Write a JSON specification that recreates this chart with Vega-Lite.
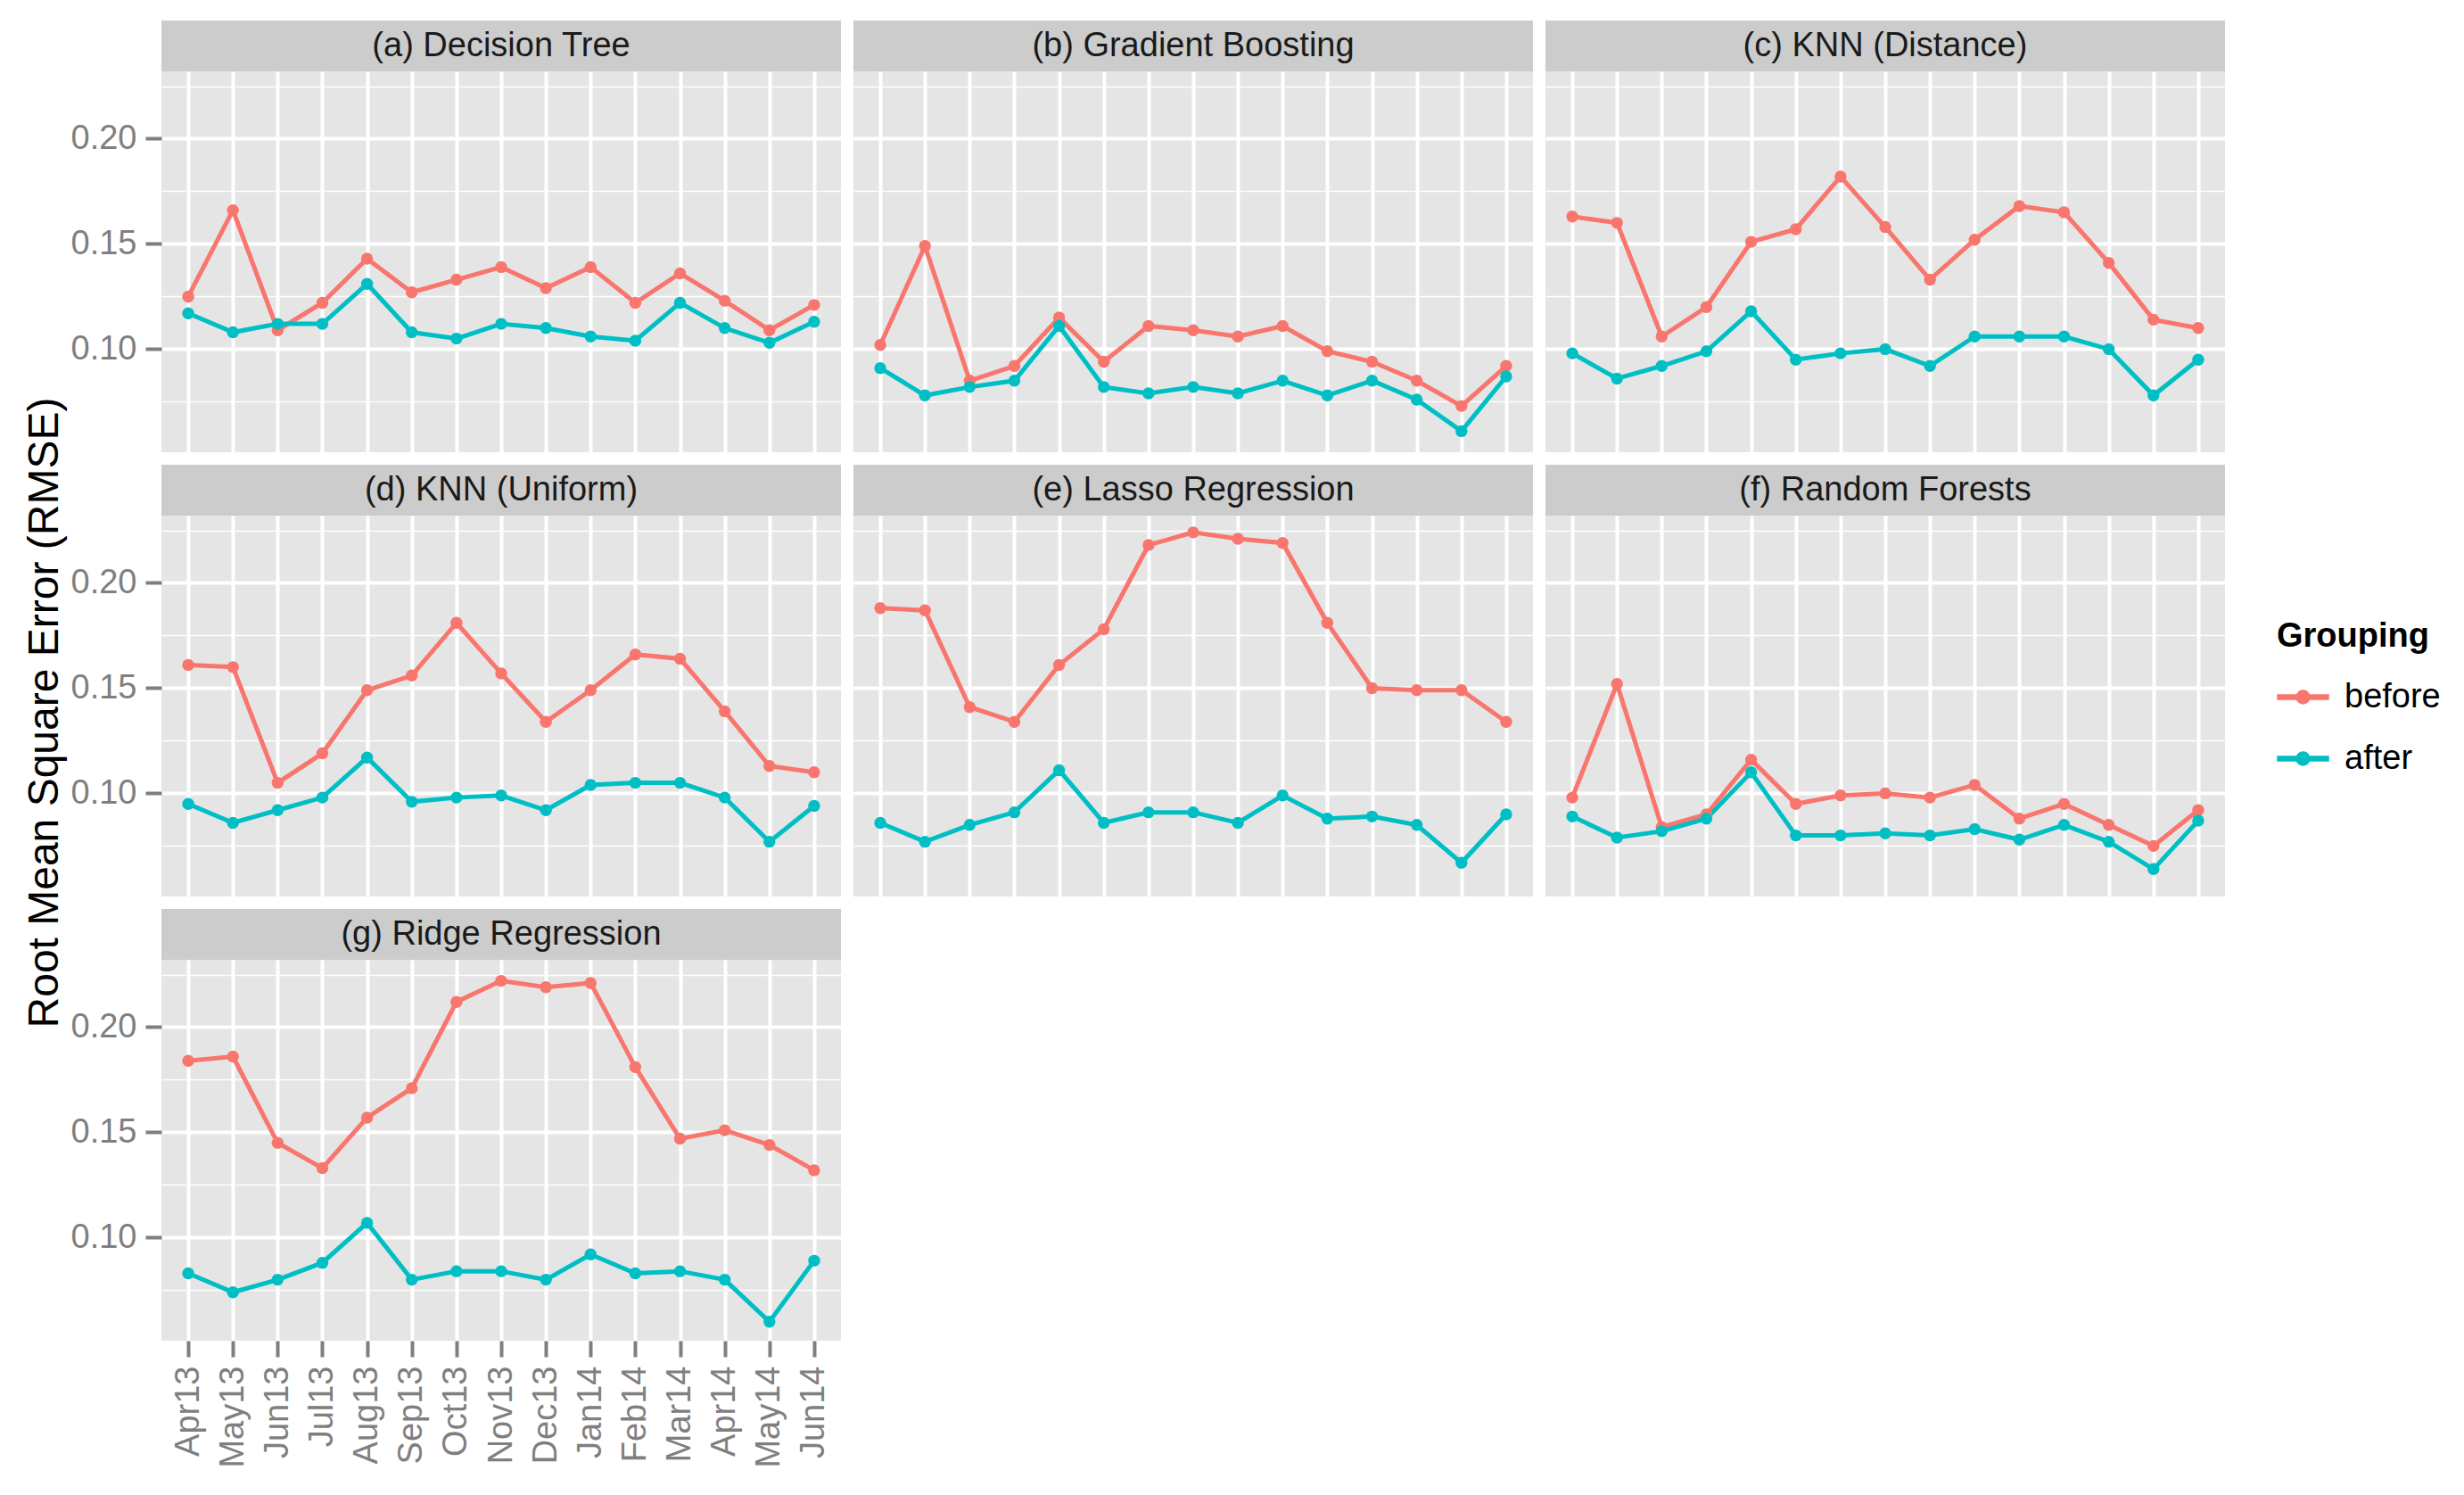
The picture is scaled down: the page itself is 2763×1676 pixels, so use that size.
{
"$schema": "https://vega.github.io/schema/vega-lite/v6.json",
"padding": {"left": 27, "top": 23, "right": 10, "bottom": 10},
"title": {"text": "Root Mean Square Error (RMSE)", "orient": "left", "anchor": "middle", "frame": "bounds", "fontSize": 48, "fontWeight": "normal", "color": "#000000", "offset": 4, "dx": 35},
"datasets": {"rmse": [
{"m":"a","month":"Apr13","before":0.125,"after":0.117},{"m":"a","month":"May13","before":0.166,"after":0.108},{"m":"a","month":"Jun13","before":0.109,"after":0.112},{"m":"a","month":"Jul13","before":0.122,"after":0.112},{"m":"a","month":"Aug13","before":0.143,"after":0.131},{"m":"a","month":"Sep13","before":0.127,"after":0.108},{"m":"a","month":"Oct13","before":0.133,"after":0.105},{"m":"a","month":"Nov13","before":0.139,"after":0.112},{"m":"a","month":"Dec13","before":0.129,"after":0.110},{"m":"a","month":"Jan14","before":0.139,"after":0.106},{"m":"a","month":"Feb14","before":0.122,"after":0.104},{"m":"a","month":"Mar14","before":0.136,"after":0.122},{"m":"a","month":"Apr14","before":0.123,"after":0.110},{"m":"a","month":"May14","before":0.109,"after":0.103},{"m":"a","month":"Jun14","before":0.121,"after":0.113},
{"m":"b","month":"Apr13","before":0.102,"after":0.091},{"m":"b","month":"May13","before":0.149,"after":0.078},{"m":"b","month":"Jun13","before":0.085,"after":0.082},{"m":"b","month":"Jul13","before":0.092,"after":0.085},{"m":"b","month":"Aug13","before":0.115,"after":0.111},{"m":"b","month":"Sep13","before":0.094,"after":0.082},{"m":"b","month":"Oct13","before":0.111,"after":0.079},{"m":"b","month":"Nov13","before":0.109,"after":0.082},{"m":"b","month":"Dec13","before":0.106,"after":0.079},{"m":"b","month":"Jan14","before":0.111,"after":0.085},{"m":"b","month":"Feb14","before":0.099,"after":0.078},{"m":"b","month":"Mar14","before":0.094,"after":0.085},{"m":"b","month":"Apr14","before":0.085,"after":0.076},{"m":"b","month":"May14","before":0.073,"after":0.061},{"m":"b","month":"Jun14","before":0.092,"after":0.087},
{"m":"c","month":"Apr13","before":0.163,"after":0.098},{"m":"c","month":"May13","before":0.160,"after":0.086},{"m":"c","month":"Jun13","before":0.106,"after":0.092},{"m":"c","month":"Jul13","before":0.120,"after":0.099},{"m":"c","month":"Aug13","before":0.151,"after":0.118},{"m":"c","month":"Sep13","before":0.157,"after":0.095},{"m":"c","month":"Oct13","before":0.182,"after":0.098},{"m":"c","month":"Nov13","before":0.158,"after":0.100},{"m":"c","month":"Dec13","before":0.133,"after":0.092},{"m":"c","month":"Jan14","before":0.152,"after":0.106},{"m":"c","month":"Feb14","before":0.168,"after":0.106},{"m":"c","month":"Mar14","before":0.165,"after":0.106},{"m":"c","month":"Apr14","before":0.141,"after":0.100},{"m":"c","month":"May14","before":0.114,"after":0.078},{"m":"c","month":"Jun14","before":0.110,"after":0.095},
{"m":"d","month":"Apr13","before":0.161,"after":0.095},{"m":"d","month":"May13","before":0.160,"after":0.086},{"m":"d","month":"Jun13","before":0.105,"after":0.092},{"m":"d","month":"Jul13","before":0.119,"after":0.098},{"m":"d","month":"Aug13","before":0.149,"after":0.117},{"m":"d","month":"Sep13","before":0.156,"after":0.096},{"m":"d","month":"Oct13","before":0.181,"after":0.098},{"m":"d","month":"Nov13","before":0.157,"after":0.099},{"m":"d","month":"Dec13","before":0.134,"after":0.092},{"m":"d","month":"Jan14","before":0.149,"after":0.104},{"m":"d","month":"Feb14","before":0.166,"after":0.105},{"m":"d","month":"Mar14","before":0.164,"after":0.105},{"m":"d","month":"Apr14","before":0.139,"after":0.098},{"m":"d","month":"May14","before":0.113,"after":0.077},{"m":"d","month":"Jun14","before":0.110,"after":0.094},
{"m":"e","month":"Apr13","before":0.188,"after":0.086},{"m":"e","month":"May13","before":0.187,"after":0.077},{"m":"e","month":"Jun13","before":0.141,"after":0.085},{"m":"e","month":"Jul13","before":0.134,"after":0.091},{"m":"e","month":"Aug13","before":0.161,"after":0.111},{"m":"e","month":"Sep13","before":0.178,"after":0.086},{"m":"e","month":"Oct13","before":0.218,"after":0.091},{"m":"e","month":"Nov13","before":0.224,"after":0.091},{"m":"e","month":"Dec13","before":0.221,"after":0.086},{"m":"e","month":"Jan14","before":0.219,"after":0.099},{"m":"e","month":"Feb14","before":0.181,"after":0.088},{"m":"e","month":"Mar14","before":0.150,"after":0.089},{"m":"e","month":"Apr14","before":0.149,"after":0.085},{"m":"e","month":"May14","before":0.149,"after":0.067},{"m":"e","month":"Jun14","before":0.134,"after":0.090},
{"m":"f","month":"Apr13","before":0.098,"after":0.089},{"m":"f","month":"May13","before":0.152,"after":0.079},{"m":"f","month":"Jun13","before":0.084,"after":0.082},{"m":"f","month":"Jul13","before":0.090,"after":0.088},{"m":"f","month":"Aug13","before":0.116,"after":0.110},{"m":"f","month":"Sep13","before":0.095,"after":0.080},{"m":"f","month":"Oct13","before":0.099,"after":0.080},{"m":"f","month":"Nov13","before":0.100,"after":0.081},{"m":"f","month":"Dec13","before":0.098,"after":0.080},{"m":"f","month":"Jan14","before":0.104,"after":0.083},{"m":"f","month":"Feb14","before":0.088,"after":0.078},{"m":"f","month":"Mar14","before":0.095,"after":0.085},{"m":"f","month":"Apr14","before":0.085,"after":0.077},{"m":"f","month":"May14","before":0.075,"after":0.064},{"m":"f","month":"Jun14","before":0.092,"after":0.087},
{"m":"g","month":"Apr13","before":0.184,"after":0.083},{"m":"g","month":"May13","before":0.186,"after":0.074},{"m":"g","month":"Jun13","before":0.145,"after":0.080},{"m":"g","month":"Jul13","before":0.133,"after":0.088},{"m":"g","month":"Aug13","before":0.157,"after":0.107},{"m":"g","month":"Sep13","before":0.171,"after":0.080},{"m":"g","month":"Oct13","before":0.212,"after":0.084},{"m":"g","month":"Nov13","before":0.222,"after":0.084},{"m":"g","month":"Dec13","before":0.219,"after":0.080},{"m":"g","month":"Jan14","before":0.221,"after":0.092},{"m":"g","month":"Feb14","before":0.181,"after":0.083},{"m":"g","month":"Mar14","before":0.147,"after":0.084},{"m":"g","month":"Apr14","before":0.151,"after":0.080},{"m":"g","month":"May14","before":0.144,"after":0.060},{"m":"g","month":"Jun14","before":0.132,"after":0.089}
]},
"spacing": 14,
"vconcat": [
{"hconcat": [
{"vconcat": [
{"width":762,"height":57,"view":{"fill":"#cccccc","stroke":null},"data":{"values":[{"t":"(a) Decision Tree"}]},"mark":{"type":"text","fontSize":38,"color":"#1a1a1a"},"encoding":{"text":{"field":"t","type":"nominal"}}},
{"width":762,"height":427,"view":{"fill":"#e5e5e5","stroke":null},"data":{"name":"rmse"},"transform":[{"filter":"datum.m === 'a'"},{"fold":["before","after"],"as":["Grouping","rmse"]}],
"layer":[
{"mark":{"type":"line","strokeWidth":5},"encoding":{
"x":{"field":"month","type":"ordinal","sort":["Apr13","May13","Jun13","Jul13","Aug13","Sep13","Oct13","Nov13","Dec13","Jan14","Feb14","Mar14","Apr14","May14","Jun14"],"scale":{"type":"point","padding":0.6},"axis":{"labels":false,"ticks":false,"title":null,"grid":true,"minExtent":0,"maxExtent":0}},
"y":{"field":"rmse","type":"quantitative","scale":{"domain":[0.051,0.232],"nice":false,"zero":false},"axis":{"values":[0.1,0.15,0.2],"format":".2f","title":null,"grid":true,"minExtent":0}},
"color":{"field":"Grouping","type":"nominal","scale":{"domain":["before","after"],"range":["#F8766D","#00BFC4"]},"legend":{"title":"Grouping","symbolType":"M-1,-0.085L1,-0.085L1,0.085L-1,0.085Z M-0.26,0A0.26,0.26 0 1,1 0.26,0A0.26,0.26 0 1,1 -0.26,0Z","symbolSize":3249,"encode":{"symbols":{"update":{"fill":{"scale":"color","field":"value"},"stroke":{"value":"transparent"},"opacity":{"value":1}}}}}}}},
{"mark":{"type":"point","filled":true,"size":180,"opacity":1},"encoding":{
"x":{"field":"month","type":"ordinal","sort":["Apr13","May13","Jun13","Jul13","Aug13","Sep13","Oct13","Nov13","Dec13","Jan14","Feb14","Mar14","Apr14","May14","Jun14"],"scale":{"type":"point","padding":0.6}},
"y":{"field":"rmse","type":"quantitative","scale":{"domain":[0.051,0.232],"nice":false,"zero":false},"axis":{"orient":"right","values":[0.075,0.125,0.175,0.225],"labels":false,"ticks":false,"title":null,"grid":true,"gridWidth":1.5,"minExtent":0,"maxExtent":0}},
"color":{"field":"Grouping","type":"nominal","scale":{"domain":["before","after"],"range":["#F8766D","#00BFC4"]}}}}
],
"resolve":{"axis":{"y":"independent"}}}
],"spacing":0,"bounds":"flush"},
{"vconcat": [
{"width":762,"height":57,"view":{"fill":"#cccccc","stroke":null},"data":{"values":[{"t":"(b) Gradient Boosting"}]},"mark":{"type":"text","fontSize":38,"color":"#1a1a1a"},"encoding":{"text":{"field":"t","type":"nominal"}}},
{"width":762,"height":427,"view":{"fill":"#e5e5e5","stroke":null},"data":{"name":"rmse"},"transform":[{"filter":"datum.m === 'b'"},{"fold":["before","after"],"as":["Grouping","rmse"]}],
"layer":[
{"mark":{"type":"line","strokeWidth":5},"encoding":{
"x":{"field":"month","type":"ordinal","sort":["Apr13","May13","Jun13","Jul13","Aug13","Sep13","Oct13","Nov13","Dec13","Jan14","Feb14","Mar14","Apr14","May14","Jun14"],"scale":{"type":"point","padding":0.6},"axis":{"labels":false,"ticks":false,"title":null,"grid":true,"minExtent":0,"maxExtent":0}},
"y":{"field":"rmse","type":"quantitative","scale":{"domain":[0.051,0.232],"nice":false,"zero":false},"axis":{"values":[0.1,0.15,0.2],"labels":false,"ticks":false,"title":null,"grid":true,"minExtent":0,"maxExtent":0}},
"color":{"field":"Grouping","type":"nominal","scale":{"domain":["before","after"],"range":["#F8766D","#00BFC4"]},"legend":{"title":"Grouping","symbolType":"M-1,-0.085L1,-0.085L1,0.085L-1,0.085Z M-0.26,0A0.26,0.26 0 1,1 0.26,0A0.26,0.26 0 1,1 -0.26,0Z","symbolSize":3249,"encode":{"symbols":{"update":{"fill":{"scale":"color","field":"value"},"stroke":{"value":"transparent"},"opacity":{"value":1}}}}}}}},
{"mark":{"type":"point","filled":true,"size":180,"opacity":1},"encoding":{
"x":{"field":"month","type":"ordinal","sort":["Apr13","May13","Jun13","Jul13","Aug13","Sep13","Oct13","Nov13","Dec13","Jan14","Feb14","Mar14","Apr14","May14","Jun14"],"scale":{"type":"point","padding":0.6}},
"y":{"field":"rmse","type":"quantitative","scale":{"domain":[0.051,0.232],"nice":false,"zero":false},"axis":{"orient":"right","values":[0.075,0.125,0.175,0.225],"labels":false,"ticks":false,"title":null,"grid":true,"gridWidth":1.5,"minExtent":0,"maxExtent":0}},
"color":{"field":"Grouping","type":"nominal","scale":{"domain":["before","after"],"range":["#F8766D","#00BFC4"]}}}}
],
"resolve":{"axis":{"y":"independent"}}}
],"spacing":0,"bounds":"flush"},
{"vconcat": [
{"width":762,"height":57,"view":{"fill":"#cccccc","stroke":null},"data":{"values":[{"t":"(c) KNN (Distance)"}]},"mark":{"type":"text","fontSize":38,"color":"#1a1a1a"},"encoding":{"text":{"field":"t","type":"nominal"}}},
{"width":762,"height":427,"view":{"fill":"#e5e5e5","stroke":null},"data":{"name":"rmse"},"transform":[{"filter":"datum.m === 'c'"},{"fold":["before","after"],"as":["Grouping","rmse"]}],
"layer":[
{"mark":{"type":"line","strokeWidth":5},"encoding":{
"x":{"field":"month","type":"ordinal","sort":["Apr13","May13","Jun13","Jul13","Aug13","Sep13","Oct13","Nov13","Dec13","Jan14","Feb14","Mar14","Apr14","May14","Jun14"],"scale":{"type":"point","padding":0.6},"axis":{"labels":false,"ticks":false,"title":null,"grid":true,"minExtent":0,"maxExtent":0}},
"y":{"field":"rmse","type":"quantitative","scale":{"domain":[0.051,0.232],"nice":false,"zero":false},"axis":{"values":[0.1,0.15,0.2],"labels":false,"ticks":false,"title":null,"grid":true,"minExtent":0,"maxExtent":0}},
"color":{"field":"Grouping","type":"nominal","scale":{"domain":["before","after"],"range":["#F8766D","#00BFC4"]},"legend":{"title":"Grouping","symbolType":"M-1,-0.085L1,-0.085L1,0.085L-1,0.085Z M-0.26,0A0.26,0.26 0 1,1 0.26,0A0.26,0.26 0 1,1 -0.26,0Z","symbolSize":3249,"encode":{"symbols":{"update":{"fill":{"scale":"color","field":"value"},"stroke":{"value":"transparent"},"opacity":{"value":1}}}}}}}},
{"mark":{"type":"point","filled":true,"size":180,"opacity":1},"encoding":{
"x":{"field":"month","type":"ordinal","sort":["Apr13","May13","Jun13","Jul13","Aug13","Sep13","Oct13","Nov13","Dec13","Jan14","Feb14","Mar14","Apr14","May14","Jun14"],"scale":{"type":"point","padding":0.6}},
"y":{"field":"rmse","type":"quantitative","scale":{"domain":[0.051,0.232],"nice":false,"zero":false},"axis":{"orient":"right","values":[0.075,0.125,0.175,0.225],"labels":false,"ticks":false,"title":null,"grid":true,"gridWidth":1.5,"minExtent":0,"maxExtent":0}},
"color":{"field":"Grouping","type":"nominal","scale":{"domain":["before","after"],"range":["#F8766D","#00BFC4"]}}}}
],
"resolve":{"axis":{"y":"independent"}}}
],"spacing":0,"bounds":"flush"}
],"spacing":14},
{"hconcat": [
{"vconcat": [
{"width":762,"height":57,"view":{"fill":"#cccccc","stroke":null},"data":{"values":[{"t":"(d) KNN (Uniform)"}]},"mark":{"type":"text","fontSize":38,"color":"#1a1a1a"},"encoding":{"text":{"field":"t","type":"nominal"}}},
{"width":762,"height":427,"view":{"fill":"#e5e5e5","stroke":null},"data":{"name":"rmse"},"transform":[{"filter":"datum.m === 'd'"},{"fold":["before","after"],"as":["Grouping","rmse"]}],
"layer":[
{"mark":{"type":"line","strokeWidth":5},"encoding":{
"x":{"field":"month","type":"ordinal","sort":["Apr13","May13","Jun13","Jul13","Aug13","Sep13","Oct13","Nov13","Dec13","Jan14","Feb14","Mar14","Apr14","May14","Jun14"],"scale":{"type":"point","padding":0.6},"axis":{"labels":false,"ticks":false,"title":null,"grid":true,"minExtent":0,"maxExtent":0}},
"y":{"field":"rmse","type":"quantitative","scale":{"domain":[0.051,0.232],"nice":false,"zero":false},"axis":{"values":[0.1,0.15,0.2],"format":".2f","title":null,"grid":true,"minExtent":0}},
"color":{"field":"Grouping","type":"nominal","scale":{"domain":["before","after"],"range":["#F8766D","#00BFC4"]},"legend":{"title":"Grouping","symbolType":"M-1,-0.085L1,-0.085L1,0.085L-1,0.085Z M-0.26,0A0.26,0.26 0 1,1 0.26,0A0.26,0.26 0 1,1 -0.26,0Z","symbolSize":3249,"encode":{"symbols":{"update":{"fill":{"scale":"color","field":"value"},"stroke":{"value":"transparent"},"opacity":{"value":1}}}}}}}},
{"mark":{"type":"point","filled":true,"size":180,"opacity":1},"encoding":{
"x":{"field":"month","type":"ordinal","sort":["Apr13","May13","Jun13","Jul13","Aug13","Sep13","Oct13","Nov13","Dec13","Jan14","Feb14","Mar14","Apr14","May14","Jun14"],"scale":{"type":"point","padding":0.6}},
"y":{"field":"rmse","type":"quantitative","scale":{"domain":[0.051,0.232],"nice":false,"zero":false},"axis":{"orient":"right","values":[0.075,0.125,0.175,0.225],"labels":false,"ticks":false,"title":null,"grid":true,"gridWidth":1.5,"minExtent":0,"maxExtent":0}},
"color":{"field":"Grouping","type":"nominal","scale":{"domain":["before","after"],"range":["#F8766D","#00BFC4"]}}}}
],
"resolve":{"axis":{"y":"independent"}}}
],"spacing":0,"bounds":"flush"},
{"vconcat": [
{"width":762,"height":57,"view":{"fill":"#cccccc","stroke":null},"data":{"values":[{"t":"(e) Lasso Regression"}]},"mark":{"type":"text","fontSize":38,"color":"#1a1a1a"},"encoding":{"text":{"field":"t","type":"nominal"}}},
{"width":762,"height":427,"view":{"fill":"#e5e5e5","stroke":null},"data":{"name":"rmse"},"transform":[{"filter":"datum.m === 'e'"},{"fold":["before","after"],"as":["Grouping","rmse"]}],
"layer":[
{"mark":{"type":"line","strokeWidth":5},"encoding":{
"x":{"field":"month","type":"ordinal","sort":["Apr13","May13","Jun13","Jul13","Aug13","Sep13","Oct13","Nov13","Dec13","Jan14","Feb14","Mar14","Apr14","May14","Jun14"],"scale":{"type":"point","padding":0.6},"axis":{"labels":false,"ticks":false,"title":null,"grid":true,"minExtent":0,"maxExtent":0}},
"y":{"field":"rmse","type":"quantitative","scale":{"domain":[0.051,0.232],"nice":false,"zero":false},"axis":{"values":[0.1,0.15,0.2],"labels":false,"ticks":false,"title":null,"grid":true,"minExtent":0,"maxExtent":0}},
"color":{"field":"Grouping","type":"nominal","scale":{"domain":["before","after"],"range":["#F8766D","#00BFC4"]},"legend":{"title":"Grouping","symbolType":"M-1,-0.085L1,-0.085L1,0.085L-1,0.085Z M-0.26,0A0.26,0.26 0 1,1 0.26,0A0.26,0.26 0 1,1 -0.26,0Z","symbolSize":3249,"encode":{"symbols":{"update":{"fill":{"scale":"color","field":"value"},"stroke":{"value":"transparent"},"opacity":{"value":1}}}}}}}},
{"mark":{"type":"point","filled":true,"size":180,"opacity":1},"encoding":{
"x":{"field":"month","type":"ordinal","sort":["Apr13","May13","Jun13","Jul13","Aug13","Sep13","Oct13","Nov13","Dec13","Jan14","Feb14","Mar14","Apr14","May14","Jun14"],"scale":{"type":"point","padding":0.6}},
"y":{"field":"rmse","type":"quantitative","scale":{"domain":[0.051,0.232],"nice":false,"zero":false},"axis":{"orient":"right","values":[0.075,0.125,0.175,0.225],"labels":false,"ticks":false,"title":null,"grid":true,"gridWidth":1.5,"minExtent":0,"maxExtent":0}},
"color":{"field":"Grouping","type":"nominal","scale":{"domain":["before","after"],"range":["#F8766D","#00BFC4"]}}}}
],
"resolve":{"axis":{"y":"independent"}}}
],"spacing":0,"bounds":"flush"},
{"vconcat": [
{"width":762,"height":57,"view":{"fill":"#cccccc","stroke":null},"data":{"values":[{"t":"(f) Random Forests"}]},"mark":{"type":"text","fontSize":38,"color":"#1a1a1a"},"encoding":{"text":{"field":"t","type":"nominal"}}},
{"width":762,"height":427,"view":{"fill":"#e5e5e5","stroke":null},"data":{"name":"rmse"},"transform":[{"filter":"datum.m === 'f'"},{"fold":["before","after"],"as":["Grouping","rmse"]}],
"layer":[
{"mark":{"type":"line","strokeWidth":5},"encoding":{
"x":{"field":"month","type":"ordinal","sort":["Apr13","May13","Jun13","Jul13","Aug13","Sep13","Oct13","Nov13","Dec13","Jan14","Feb14","Mar14","Apr14","May14","Jun14"],"scale":{"type":"point","padding":0.6},"axis":{"labels":false,"ticks":false,"title":null,"grid":true,"minExtent":0,"maxExtent":0}},
"y":{"field":"rmse","type":"quantitative","scale":{"domain":[0.051,0.232],"nice":false,"zero":false},"axis":{"values":[0.1,0.15,0.2],"labels":false,"ticks":false,"title":null,"grid":true,"minExtent":0,"maxExtent":0}},
"color":{"field":"Grouping","type":"nominal","scale":{"domain":["before","after"],"range":["#F8766D","#00BFC4"]},"legend":{"title":"Grouping","symbolType":"M-1,-0.085L1,-0.085L1,0.085L-1,0.085Z M-0.26,0A0.26,0.26 0 1,1 0.26,0A0.26,0.26 0 1,1 -0.26,0Z","symbolSize":3249,"encode":{"symbols":{"update":{"fill":{"scale":"color","field":"value"},"stroke":{"value":"transparent"},"opacity":{"value":1}}}}}}}},
{"mark":{"type":"point","filled":true,"size":180,"opacity":1},"encoding":{
"x":{"field":"month","type":"ordinal","sort":["Apr13","May13","Jun13","Jul13","Aug13","Sep13","Oct13","Nov13","Dec13","Jan14","Feb14","Mar14","Apr14","May14","Jun14"],"scale":{"type":"point","padding":0.6}},
"y":{"field":"rmse","type":"quantitative","scale":{"domain":[0.051,0.232],"nice":false,"zero":false},"axis":{"orient":"right","values":[0.075,0.125,0.175,0.225],"labels":false,"ticks":false,"title":null,"grid":true,"gridWidth":1.5,"minExtent":0,"maxExtent":0}},
"color":{"field":"Grouping","type":"nominal","scale":{"domain":["before","after"],"range":["#F8766D","#00BFC4"]}}}}
],
"resolve":{"axis":{"y":"independent"}}}
],"spacing":0,"bounds":"flush"}
],"spacing":14},
{"vconcat": [
{"width":762,"height":57,"view":{"fill":"#cccccc","stroke":null},"data":{"values":[{"t":"(g) Ridge Regression"}]},"mark":{"type":"text","fontSize":38,"color":"#1a1a1a"},"encoding":{"text":{"field":"t","type":"nominal"}}},
{"width":762,"height":427,"view":{"fill":"#e5e5e5","stroke":null},"data":{"name":"rmse"},"transform":[{"filter":"datum.m === 'g'"},{"fold":["before","after"],"as":["Grouping","rmse"]}],
"layer":[
{"mark":{"type":"line","strokeWidth":5},"encoding":{
"x":{"field":"month","type":"ordinal","sort":["Apr13","May13","Jun13","Jul13","Aug13","Sep13","Oct13","Nov13","Dec13","Jan14","Feb14","Mar14","Apr14","May14","Jun14"],"scale":{"type":"point","padding":0.6},"axis":{"labelAngle":270,"title":null,"grid":true}},
"y":{"field":"rmse","type":"quantitative","scale":{"domain":[0.051,0.232],"nice":false,"zero":false},"axis":{"values":[0.1,0.15,0.2],"format":".2f","title":null,"grid":true,"minExtent":0}},
"color":{"field":"Grouping","type":"nominal","scale":{"domain":["before","after"],"range":["#F8766D","#00BFC4"]},"legend":{"title":"Grouping","symbolType":"M-1,-0.085L1,-0.085L1,0.085L-1,0.085Z M-0.26,0A0.26,0.26 0 1,1 0.26,0A0.26,0.26 0 1,1 -0.26,0Z","symbolSize":3249,"encode":{"symbols":{"update":{"fill":{"scale":"color","field":"value"},"stroke":{"value":"transparent"},"opacity":{"value":1}}}}}}}},
{"mark":{"type":"point","filled":true,"size":180,"opacity":1},"encoding":{
"x":{"field":"month","type":"ordinal","sort":["Apr13","May13","Jun13","Jul13","Aug13","Sep13","Oct13","Nov13","Dec13","Jan14","Feb14","Mar14","Apr14","May14","Jun14"],"scale":{"type":"point","padding":0.6}},
"y":{"field":"rmse","type":"quantitative","scale":{"domain":[0.051,0.232],"nice":false,"zero":false},"axis":{"orient":"right","values":[0.075,0.125,0.175,0.225],"labels":false,"ticks":false,"title":null,"grid":true,"gridWidth":1.5,"minExtent":0,"maxExtent":0}},
"color":{"field":"Grouping","type":"nominal","scale":{"domain":["before","after"],"range":["#F8766D","#00BFC4"]}}}}
],
"resolve":{"axis":{"y":"independent"}}}
],"spacing":0,"bounds":"flush"}
],
"config": {
"font": "Liberation Sans",
"view": {"stroke": null},
"axis": {"domain": false, "gridColor": "#ffffff", "gridWidth": 4, "gridOpacity": 1, "tickColor": "#7f7f7f", "tickWidth": 4, "tickSize": 18, "labelColor": "#7f7f7f", "labelFontSize": 38, "labelPadding": 10},
"axisY": {"minExtent": 0},
"legend": {"orient": "none", "legendX": 2372, "legendY": 672, "titleFontSize": 38, "titleFontWeight": "bold", "titleColor": "#000000", "labelFontSize": 38, "labelColor": "#000000", "rowPadding": 20, "titlePadding": 19, "labelOffset": 17}
}
}
